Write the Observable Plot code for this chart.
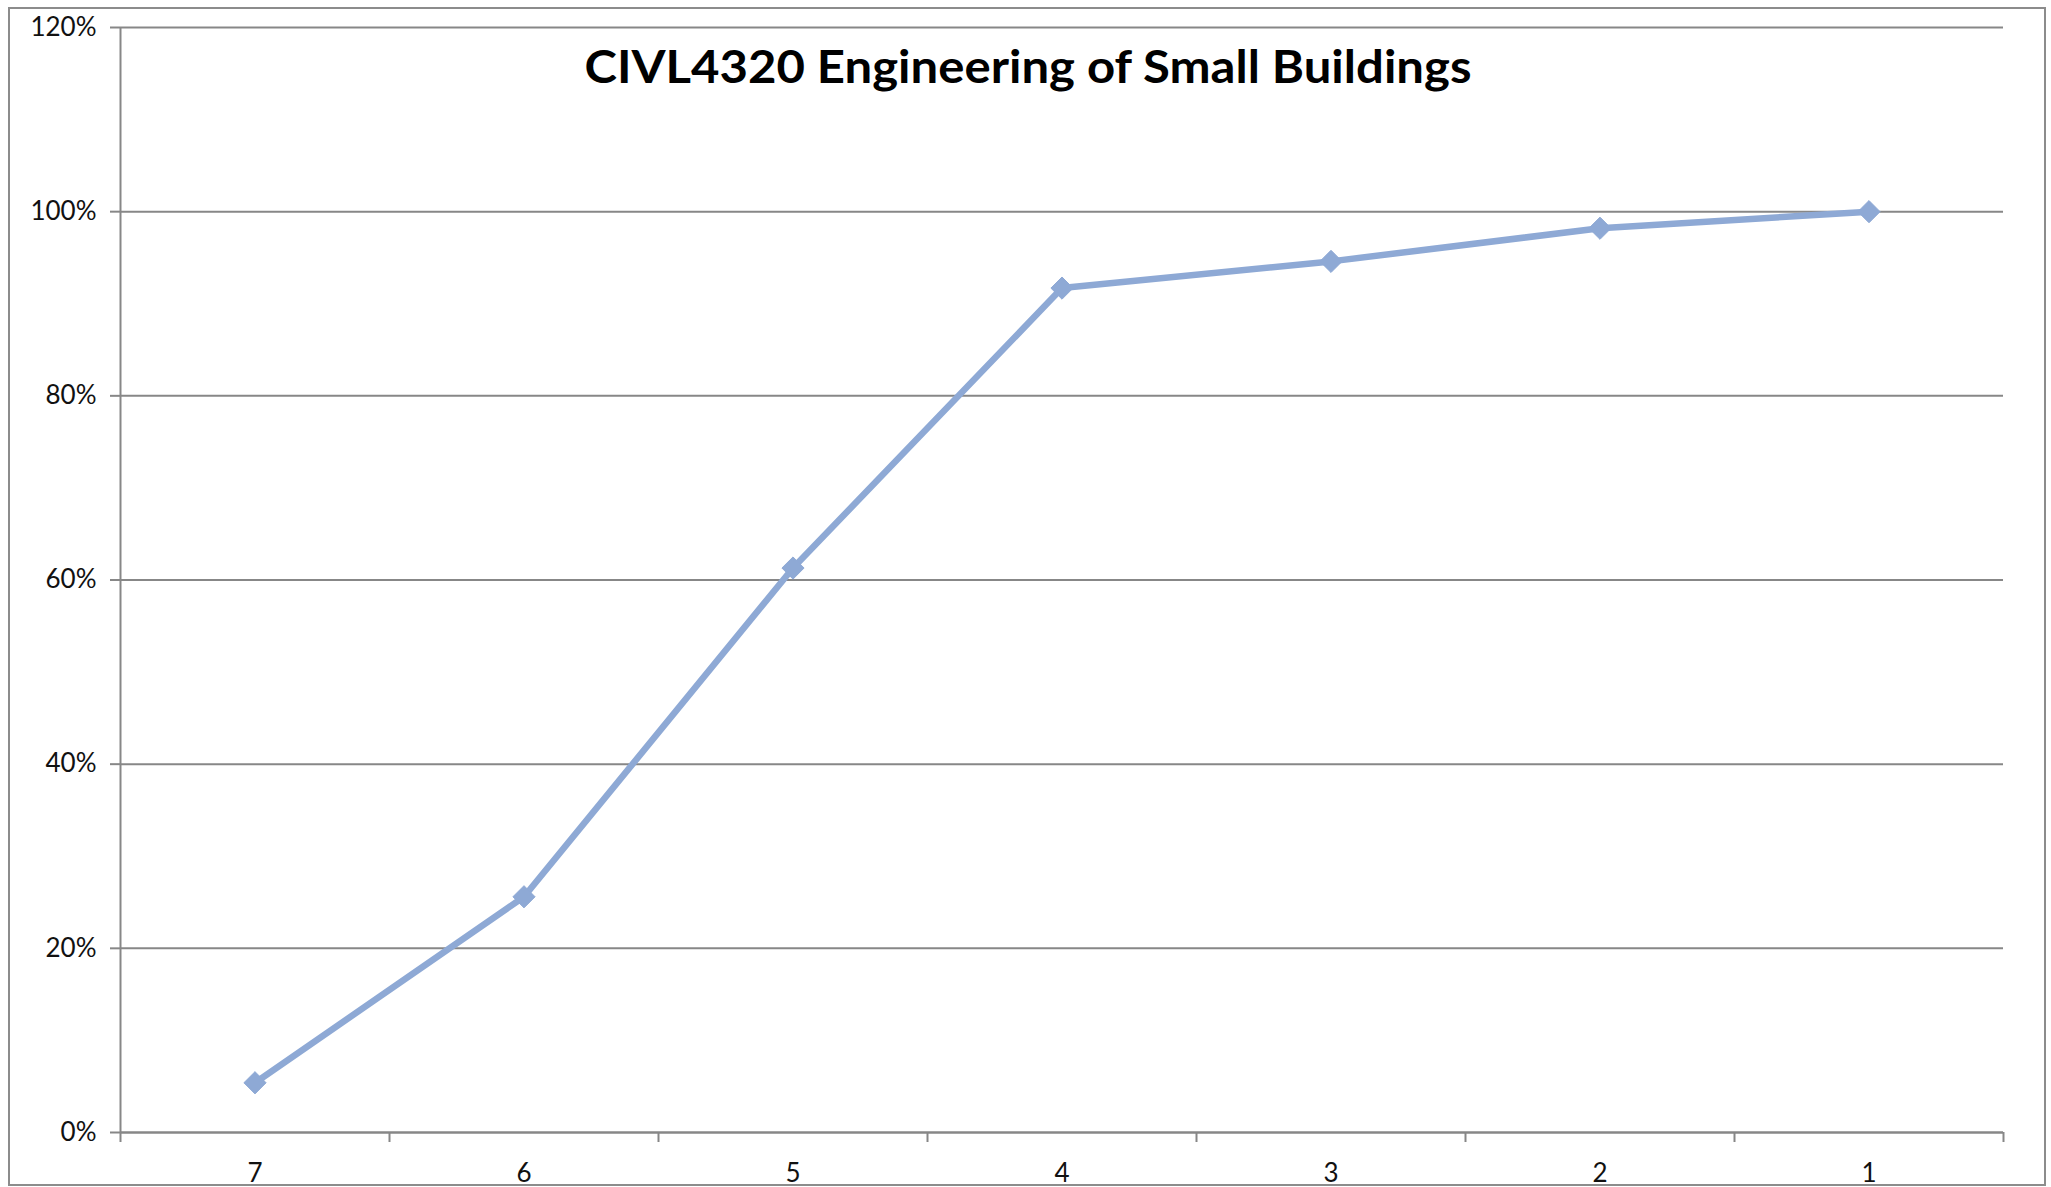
<!DOCTYPE html>
<html><head><meta charset="utf-8">
<script src="https://cdn.jsdelivr.net/npm/d3@7"></script>
<script src="https://cdn.jsdelivr.net/npm/@observablehq/plot@0.6"></script>
<style>
html,body{margin:0;padding:0;background:#fff;}
#wrap{position:relative;width:2051px;height:1187px;overflow:hidden;}
#border{position:absolute;left:8px;top:7px;width:2038px;height:1179px;border:2px solid #8c8c8c;box-sizing:border-box;pointer-events:none;z-index:2;}
#wrap svg{position:absolute;left:0;top:0;z-index:1;}
</style></head><body>
<div id="wrap"><div id="border"></div></div>
<script>
const title = "CIVL4320 Engineering of Small Buildings";
const categories = ["7","6","5","4","3","2","1"];
const values = [0.054, 0.256, 0.613, 0.917, 0.946, 0.982, 1.0];
const yTicks = [0, 0.2, 0.4, 0.6, 0.8, 1.0, 1.2];

const data = categories.map((c, i) => ({cat: c, pos: i + 0.5, value: values[i]}));
const centers = categories.map((c, i) => i + 0.5);
const bounds = d3.range(categories.length + 1);
const lineColor = "#8EA9D5";
const axisColor = "#878787";

const chart = Plot.plot({
  width: 2051, height: 1187,
  marginLeft: 120, marginRight: 48, marginTop: 27, marginBottom: 55,
  style: {fontFamily: "Lato, 'Open Sans', sans-serif", fontSize: "26px", color: "#000", background: "transparent"},
  x: {domain: [0, categories.length], axis: null, label: null},
  y: {domain: [0, 1.2], axis: null, label: null},
  marks: [
    Plot.gridY(yTicks, {stroke: axisColor, strokeOpacity: 1, strokeWidth: 2}),
    Plot.axisY(yTicks, {label: null, tickSize: 10, tickPadding: 14, stroke: axisColor, strokeWidth: 2, strokeOpacity: 1, tickFormat: d3.format(".0%"), fill: "#111", fontSize: 26}),
    Plot.ruleX([0], {stroke: axisColor, strokeWidth: 2}),
    Plot.ruleY([0], {stroke: axisColor, strokeWidth: 2}),
    Plot.axisX(bounds, {label: null, tickSize: 10, tickFormat: () => "", stroke: axisColor, strokeWidth: 2, strokeOpacity: 1}),
    Plot.axisX(centers, {label: null, tickSize: 0, tickPadding: 31, tickFormat: d => categories[Math.round(d - 0.5)], fill: "#111", fontSize: 26}),
    Plot.lineY(data, {x: "pos", y: "value", stroke: lineColor, strokeWidth: 6.5}),
    Plot.dot(data, {x: "pos", y: "value", symbol: "diamond2", r: 10, fill: lineColor, stroke: lineColor, strokeWidth: 1}),
    Plot.text([title], {frameAnchor: "top", dy: 41, dx: -34, lineAnchor: "middle", fontSize: 46, fontWeight: "bold", fill: "#000"})
  ]
});
d3.select(chart).selectAll("text").filter(function () { return this.textContent === title; })
  .attr("textLength", 887).attr("lengthAdjust", "spacingAndGlyphs");
document.getElementById("wrap").appendChild(chart);
</script>
</body></html>
